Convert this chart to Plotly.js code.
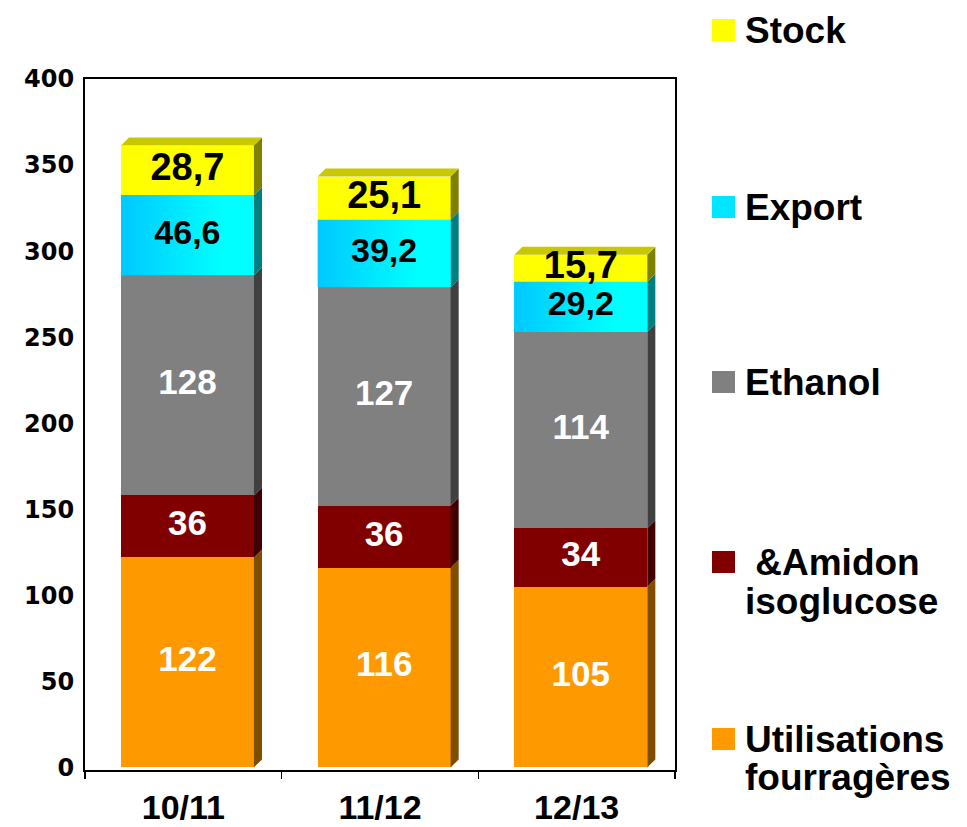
<!DOCTYPE html>
<html>
<head>
<meta charset="utf-8">
<script src="https://cdn.plot.ly/plotly-3.0.1.min.js"></script>
<style>html,body{margin:0;padding:0;background:#fff;}#chart{width:967px;height:827px;}</style>
</head>
<body>
<div id="chart"></div>
<script>
// ---- data ----
const categories = ['10/11', '11/12', '12/13'];
const fourrageres = [122, 116, 105];
const amidon = [36, 36, 34];
const ethanol = [128, 127, 114];
const exportV = [46.6, 39.2, 29.2];
const stock = [28.7, 25.1, 15.7];
const seriesNames = ['Utilisations fourragères', ' &Amidon isoglucose', 'Ethanol', 'Export', 'Stock'];
const yTicks = [0, 50, 100, 150, 200, 250, 300, 350, 400];

// ---- styles ----
const series = [
  {name: seriesNames[0], values: fourrageres, color: '#FF9900', side: '#7F4D00', txt: '#FFFFFF', size: 35},
  {name: seriesNames[1], values: amidon, color: '#800000', side: '#400000', txt: '#FFFFFF', size: 35},
  {name: seriesNames[2], values: ethanol, color: '#808080', side: '#404040', txt: '#FFFFFF', size: 35},
  {name: seriesNames[3], values: exportV, color: '#00E6FF', side: '#007F80', txt: '#000000', size: 34, grad: true},
  {name: seriesNames[4], values: stock, color: '#FFFF00', side: '#808000', txt: '#000000', size: 38, top: '#C8C800'}
];
const OFF = -0.317, W = 0.676;        // bar front face offset/width (category units)
const DX = 0.041, DY = 4.65;          // depth of the 3D faces (category units / value units)
const FONT = 'Liberation Sans, Arial, sans-serif';
const xs = categories.map((c, i) => i);

const traces = [];
const labelTraces = [];
const base = categories.map(() => 0);
series.forEach((s) => {
  traces.push({
    type: 'bar', x: xs, y: s.values, name: s.name, offset: OFF, width: W,
    marker: {color: s.color, line: {width: 0}}, showlegend: false, hoverinfo: 'skip'
  });
  // side faces
  const sx = [], sy = [];
  s.values.forEach((v, i) => {
    const xr = i + OFF + W, b0 = base[i], b1 = base[i] + v;
    sx.push(xr, xr + DX, xr + DX, xr, xr, null);
    sy.push(b0, b0 + DY, b1 + DY, b1, b0, null);
  });
  traces.push({type: 'scatter', x: sx, y: sy, mode: 'lines', fill: 'toself', fillcolor: s.side,
    line: {width: 0, color: s.side}, showlegend: false, hoverinfo: 'skip'});
  // gradient front face
  if (s.grad) {
    s.values.forEach((v, i) => {
      const xl = i + OFF, xr = xl + W, b0 = base[i], b1 = base[i] + v;
      traces.push({type: 'scatter', x: [xl, xr, xr, xl, xl], y: [b0, b0, b1, b1, b0], mode: 'lines',
        fill: 'toself', line: {width: 0, color: 'rgba(0,0,0,0)'},
        fillgradient: {type: 'horizontal', colorscale: [[0, '#00C8FF'], [0.75, '#00FFFF'], [1, '#00FFFF']]},
        showlegend: false, hoverinfo: 'skip'});
    });
  }
  // top face
  if (s.top) {
    const tx = [], ty = [];
    s.values.forEach((v, i) => {
      const xl = i + OFF, xr = xl + W, t = base[i] + v;
      tx.push(xl, xl + DX, xr + DX, xr, xl, null);
      ty.push(t, t + DY, t + DY, t, t, null);
    });
    traces.push({type: 'scatter', x: tx, y: ty, mode: 'lines', fill: 'toself', fillcolor: s.top,
      line: {width: 0, color: s.top}, showlegend: false, hoverinfo: 'skip'});
  }
  // labels
  labelTraces.push({
    type: 'scatter', mode: 'text', x: xs.map(i => i + OFF + W / 2),
    y: s.values.map((v, i) => base[i] + v / 2),
    text: s.values.map(v => String(v).replace('.', ',')),
    textposition: 'middle center',
    textfont: {family: FONT, size: s.size, color: s.txt, weight: 'bold'},
    showlegend: false, hoverinfo: 'skip', cliponaxis: false
  });
  s.values.forEach((v, i) => { base[i] += v; });
});

// ---- legend (drawn in paper space) ----
const L = 85, T = 79, PW = 590, PH = 691;
const px = p => (p - L) / PW;
const py = p => (T + PH - p) / PH;
const legendItems = [
  {lines: ['Stock'], color: series[4].color, cy: 30},
  {lines: ['Export'], color: series[3].color, cy: 207},
  {lines: ['Ethanol'], color: series[2].color, cy: 382},
  {lines: ['\u00A0&Amidon', 'isoglucose'], color: series[1].color, cy: 562},
  {lines: ['Utilisations', 'fourragères'], color: series[0].color, cy: 739}
];
const shapes = [], annotations = [];
legendItems.forEach(it => {
  shapes.push({type: 'rect', xref: 'paper', yref: 'paper', x0: px(712), x1: px(735),
    y0: py(it.cy - 11), y1: py(it.cy + 11), fillcolor: it.color, line: {width: 0}});
  it.lines.forEach((t, k) => {
    annotations.push({xref: 'paper', yref: 'paper', x: px(743), y: py(it.cy + k * 39),
      xanchor: 'left', yanchor: 'middle', text: t, showarrow: false,
      font: {family: FONT, size: 37, color: '#000', weight: 'bold'}});
  });
});

const layout = {
  width: 967, height: 827,
  margin: {l: L, r: 967 - L - PW, t: T, b: 827 - T - PH},
  paper_bgcolor: '#FFFFFF', plot_bgcolor: '#FFFFFF',
  barmode: 'stack', showlegend: false, hovermode: false,
  xaxis: {
    range: [-0.5, 2.5], tickmode: 'array', tickvals: xs, ticktext: categories,
    ticks: '', showgrid: false, zeroline: false,
    showline: true, mirror: true, linecolor: '#000', linewidth: 2,
    tickfont: {family: FONT, size: 34, color: '#000', weight: 'bold'},
    ticklabelstandoff: 6,
    minor: {tickmode: 'array', tickvals: [-0.5, 0.5, 1.5, 2.5], ticks: 'outside', ticklen: 7,
      tickwidth: 1.5, tickcolor: '#000', showgrid: false}
  },
  yaxis: {
    range: [-1.5, 400], tickmode: 'array', tickvals: yTicks, ticks: '', showgrid: false, zeroline: false,
    showline: true, mirror: true, linecolor: '#000', linewidth: 2,
    tickfont: {family: 'DejaVu Sans, sans-serif', size: 24, color: '#000', weight: 'bold'},
    ticklabelstandoff: 4
  },
  shapes: shapes, annotations: annotations
};

Plotly.newPlot('chart', traces.concat(labelTraces), layout, {displayModeBar: false, staticPlot: true});
</script>
</body>
</html>
